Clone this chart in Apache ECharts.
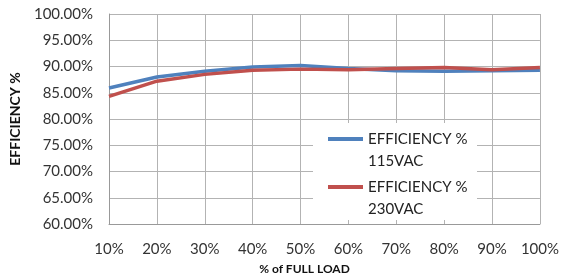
<!DOCTYPE html>
<html>
<head>
<meta charset="utf-8">
<script src="https://cdn.jsdelivr.net/npm/echarts@6/dist/echarts.min.js"></script>
<style>
  html, body { margin: 0; padding: 0; background: #fff; }
</style>
</head>
<body>
<div id="chart" style="width: 562px; height: 280px"></div>
<script>
const categories = ["10%", "20%", "30%", "40%", "50%", "60%", "70%", "80%", "90%", "100%"];
const eff115 = [85.9, 88.0, 89.1, 89.9, 90.2, 89.6, 89.2, 89.1, 89.2, 89.3];
const eff230 = [84.3, 87.2, 88.5, 89.3, 89.5, 89.4, 89.6, 89.8, 89.4, 89.8];
const seriesNames = ["EFFICIENCY %\n115VAC", "EFFICIENCY %\n230VAC"];

const font = "Lato";
const chart = echarts.init(document.getElementById("chart"));

// one legend per series; an empty first line puts the marker beside "EFFICIENCY %"
const legendBase = (name, top) => ({
  data: [name],
  left: 328,
  top: top,
  orient: "vertical",
  icon: "rect",
  itemWidth: 35,
  itemHeight: 4,
  padding: 0,
  selectedMode: false,
  formatter: (n) => " \n" + n,
  textStyle: {
    fontFamily: font,
    fontSize: 15,
    color: "#222",
    lineHeight: 22,
  },
});

const option = {
  animation: false,
  backgroundColor: "#fff",
  grid: {
    left: 107,
    right: 20,
    top: 14,
    bottom: 50,
  },
  graphic: [
    {
      type: "rect",
      z: 3,
      shape: { x: 313, y: 123, width: 164, height: 97 },
      style: { fill: "#fff" },
    },
  ],
  legend: [legendBase(seriesNames[0], 106), legendBase(seriesNames[1], 154)],
  xAxis: {
    type: "category",
    boundaryGap: false,
    data: categories,
    name: "% of FULL LOAD",
    nameLocation: "middle",
    nameGap: 39,
    nameTextStyle: {
      fontFamily: font,
      fontSize: 12,
      fontWeight: "bold",
      color: "#111",
      padding: [0, 40, 0, 0],
    },
    axisLine: { lineStyle: { color: "#999", width: 1 } },
    axisTick: { show: false },
    axisLabel: {
      fontFamily: font,
      fontSize: 15,
      color: "#333",
      margin: 18,
      interval: 0,
    },
    splitLine: { show: true, lineStyle: { color: "#b3b3b3", width: 1 } },
  },
  yAxis: {
    type: "value",
    min: 60,
    max: 100,
    interval: 5,
    name: "EFFICIENCY %",
    nameLocation: "middle",
    nameGap: 87,
    nameTextStyle: {
      fontFamily: font,
      fontSize: 14,
      fontWeight: "bold",
      color: "#111",
    },
    axisLine: { show: true, lineStyle: { color: "#999", width: 1 } },
    axisTick: { show: false },
    axisLabel: {
      fontFamily: font,
      fontSize: 15,
      color: "#333",
      margin: 16,
      formatter: (v) => v.toFixed(2) + "%",
    },
    splitLine: { lineStyle: { color: "#b3b3b3", width: 1 } },
  },
  series: [
    {
      name: seriesNames[0],
      type: "line",
      data: eff115,
      showSymbol: false,
      lineStyle: { width: 3.5, color: "#4F81BD" },
      itemStyle: { color: "#4F81BD" },
    },
    {
      name: seriesNames[1],
      type: "line",
      data: eff230,
      showSymbol: false,
      lineStyle: { width: 3.5, color: "#C0504D" },
      itemStyle: { color: "#C0504D" },
    },
  ],
};
chart.setOption(option);
</script>
</body>
</html>
